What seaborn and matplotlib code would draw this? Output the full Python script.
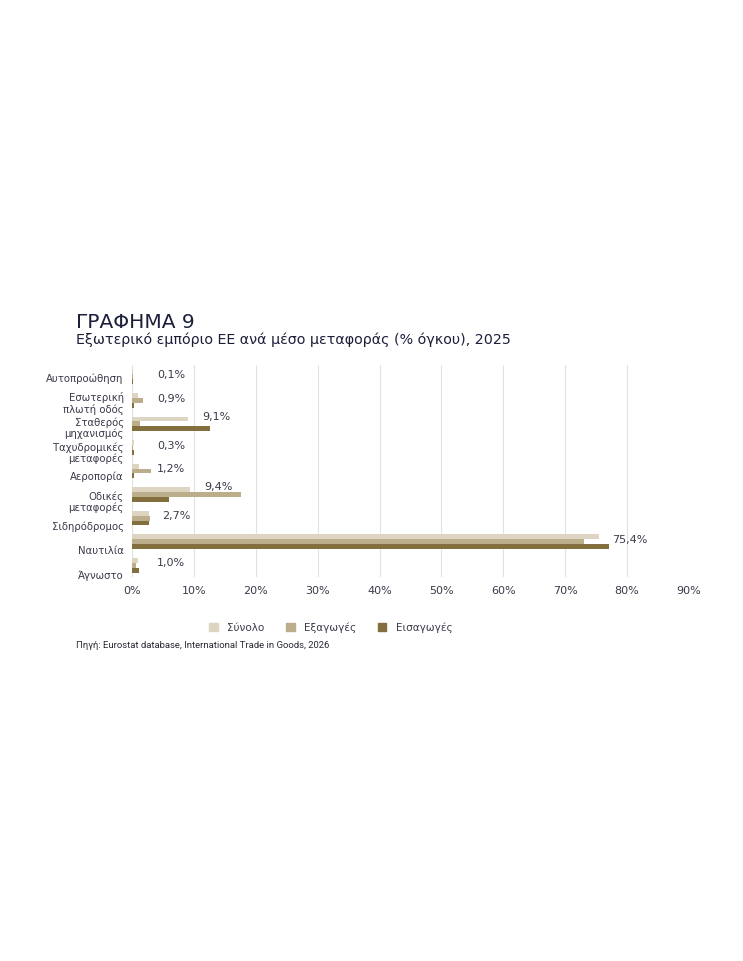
import pandas as pd
import matplotlib.pyplot as plt
import seaborn as sns

categories = ["Αυτοπροώθηση", "Εσωτερική\nπλωτή οδός", "Σταθερός\nμηχανισμός",
              "Ταχυδρομικές\nμεταφορές", "Αεροπορία", "Οδικές\nμεταφορές",
              "Σιδηρόδρομος", "Ναυτιλία", "Άγνωστο"]
total = [0.1, 0.9, 9.1, 0.3, 1.2, 9.4, 2.7, 75.4, 1.0]
exports = [0.1, 1.8, 1.3, 0.1, 3.0, 17.6, 2.9, 73.1, 0.6]
imports = [0.1, 0.4, 12.6, 0.4, 0.3, 6.0, 2.7, 77.0, 1.1]
series = ["Σύνολο", "Εξαγωγές", "Εισαγωγές"]
colors = ["#ddd5c1", "#bcae8a", "#836f3e"]
ticks = ["0%", "10%", "20%", "30%", "40%", "50%", "60%", "70%", "80%", "90%"]

df = pd.DataFrame({"cat": categories * 3,
                   "value": total + exports + imports,
                   "series": [s for s in series for _ in categories]})

sns.set_style("white")
plt.rcParams["font.family"] = ["DejaVu Sans"]
text_col = "#3a3a4a"

fig = plt.figure(figsize=(7.43, 9.62), dpi=100)
ax = fig.add_axes([132 / 743, 1 - 578 / 962, (689 - 132) / 743, (578 - 366) / 962])

sns.barplot(data=df, y="cat", x="value", hue="series", palette=colors,
            orient="h", width=0.62, gap=0, linewidth=0, ax=ax, legend=False,
            saturation=1)

ax.set_xlim(0, 90)
ax.set_xticks(range(0, 100, 10))
ax.set_xticklabels(ticks, fontsize=8, color=text_col)
# labels drift slightly downward as in the original
ax.set_yticks([i * 1.045 for i in range(len(categories))])
ax.set_yticklabels(categories, fontsize=7.3, color=text_col, linespacing=1.05)
ax.set_ylim(len(categories) - 0.5, -0.5)
ax.tick_params(axis="both", length=0, pad=6)
ax.set_xlabel("")
ax.set_ylabel("")
ax.grid(axis="x", color="#e2e2e2", linewidth=0.8)
ax.set_axisbelow(True)
for s in ax.spines.values():
    s.set_visible(False)

for i, v in enumerate(total):
    x = max(v, 1.8) + 2.2
    top = max(v, exports[i], imports[i])
    y = i - 0.35 if top > x else i - 0.12
    ax.text(x, y, f"{v:.1f}%".replace(".", ","), fontsize=8,
            color=text_col, va="center", ha="left")

fig.text(76 / 743, 1 - 323 / 962, "ΓΡΑΦΗΜΑ 9", fontsize=14.5, color="#1c1f3a",
         va="center", ha="left")
fig.text(76 / 743, 1 - 340 / 962, "Εξωτερικό εμπόριο ΕΕ ανά μέσο μεταφοράς (% όγκου), 2025",
         fontsize=10.3, color="#1c1f3a", va="center", ha="left")

handles = [plt.Rectangle((0, 0), 1, 1, color=c) for c in colors]
fig.legend(handles, series, loc="center left",
           bbox_to_anchor=(200 / 743, 1 - 628 / 962), ncol=3, frameon=False,
           fontsize=7.5, handlelength=0.8, handleheight=0.8, columnspacing=2.1,
           handletextpad=0.9, labelcolor=text_col)

fig.text(76 / 743, 1 - 645 / 962, "Πηγή: Eurostat database, International Trade in Goods, 2026",
         fontsize=6.8, color="#2a2a35", va="center", ha="left", family=["Roboto", "DejaVu Sans"])

fig.savefig("out.png", dpi=100, facecolor="white")
